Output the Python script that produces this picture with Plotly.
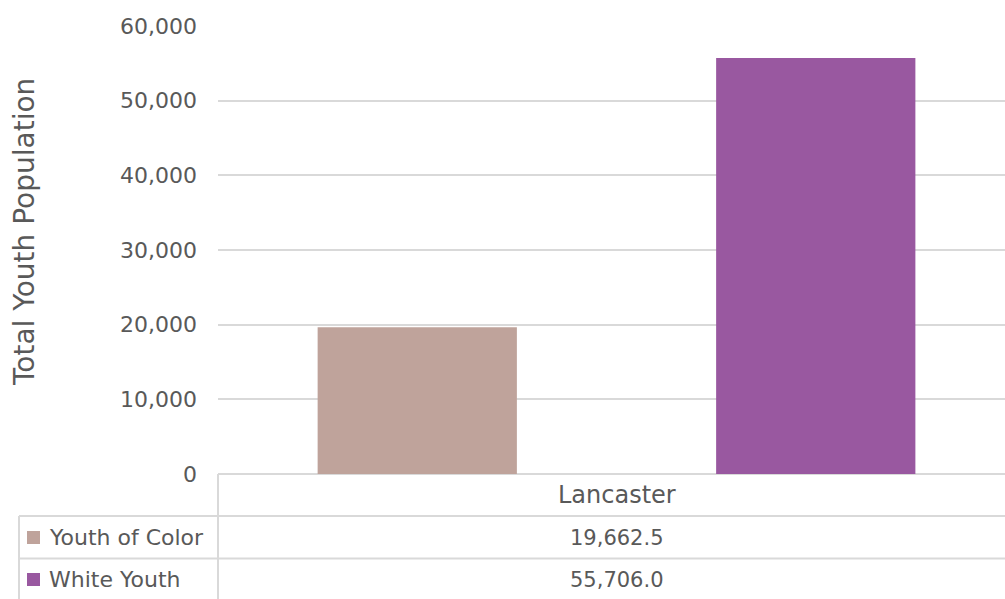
import plotly.graph_objects as go

# ---- data ----
categories = ["Lancaster"]
series_names = ["Youth of Color", "White Youth"]
youth_of_color = [19662.5]
white_youth = [55706.0]
series_values = [youth_of_color, white_youth]
series_colors = ["#BFA39B", "#9958A0"]
y_tick_vals = [0, 10000, 20000, 30000, 40000, 50000, 60000]

# ---- geometry (pixels in the screenshot; body margin removed below) ----
W, H = 1005, 599
PL, PT, PB = 218, 26, 474          # plot left / top / bottom in screenshot pixels
PR = 1005
PW, PH = PR - PL, PB - PT
TXT = "#595959"
GRID = "#D9D9D9"
FONT = "DejaVu Sans"


def px(x):
    return (x - PL) / PW


def py(y):
    return (PB - y) / PH


fig = go.Figure()
for name, vals, col in zip(series_names, series_values, series_colors):
    fig.add_trace(go.Bar(x=categories, y=vals, name=name, marker_color=col,
                         marker_line_width=0, showlegend=False))

shapes = []
line = dict(color=GRID, width=2)
for y in (516, 558.5):
    shapes.append(dict(type="line", xref="paper", yref="paper", x0=px(19), x1=px(1010),
                       y0=py(y), y1=py(y), line=line))
shapes.append(dict(type="line", xref="paper", yref="paper", x0=px(PL), x1=px(PL),
                   y0=py(PB), y1=py(605), line=line))
shapes.append(dict(type="line", xref="paper", yref="paper", x0=px(19), x1=px(19),
                   y0=py(516), y1=py(605), line=line))

annotations = []
annotations.append(dict(text="Total Youth Population", xref="paper", yref="paper",
                        x=px(24), y=py(232), textangle=-90, showarrow=False,
                        font=dict(family=FONT, size=28, color=TXT),
                        xanchor="center", yanchor="middle"))
annotations.append(dict(text=categories[0], xref="x", yref="paper", x=categories[0],
                        y=py(495), showarrow=False, xanchor="center", yanchor="middle",
                        font=dict(family=FONT, size=24, color=TXT)))
row_centers = [537.5, 579.5]
for name, vals, col, yc in zip(series_names, series_values, series_colors, row_centers):
    shapes.append(dict(type="rect", xref="paper", yref="paper", x0=px(27), x1=px(40),
                       y0=py(yc - 6.5), y1=py(yc + 6.5), fillcolor=col, line_width=0))
    annotations.append(dict(text=name, xref="paper", yref="paper", x=px(47), y=py(yc),
                            showarrow=False, xanchor="left", yanchor="middle",
                            font=dict(family=FONT, size=22, color=TXT)))
    annotations.append(dict(text=f"{vals[0]:,.1f}", xref="x", yref="paper", x=categories[0],
                            y=py(yc), showarrow=False, xanchor="center", yanchor="middle",
                            font=dict(family=FONT, size=21, color=TXT)))

fig.update_layout(
    width=W, height=H,
    margin=dict(l=PL, r=W - PR, t=PT, b=H - PB),
    paper_bgcolor="white", plot_bgcolor="white",
    barmode="group", bargap=0, bargroupgap=0.5,
    shapes=shapes, annotations=annotations,
    font=dict(family=FONT, color=TXT),
)
fig.update_xaxes(type="category", range=[-0.5, -0.5 + (PR - PL) / 797], showticklabels=False,
                 showgrid=False, showline=False, zeroline=False, ticks="")
fig.update_yaxes(range=[0, 60000], tickvals=y_tick_vals, tickformat=",",
                 showgrid=True, gridcolor=GRID, gridwidth=2,
                 zeroline=True, zerolinecolor=GRID, zerolinewidth=2,
                 showline=False, ticks="", ticklabelstandoff=20,
                 tickfont=dict(family=FONT, size=22, color=TXT))

fig.write_html("out.html", config={"displayModeBar": False},
               post_script="document.body.style.margin='0';document.body.style.overflow='hidden';")
